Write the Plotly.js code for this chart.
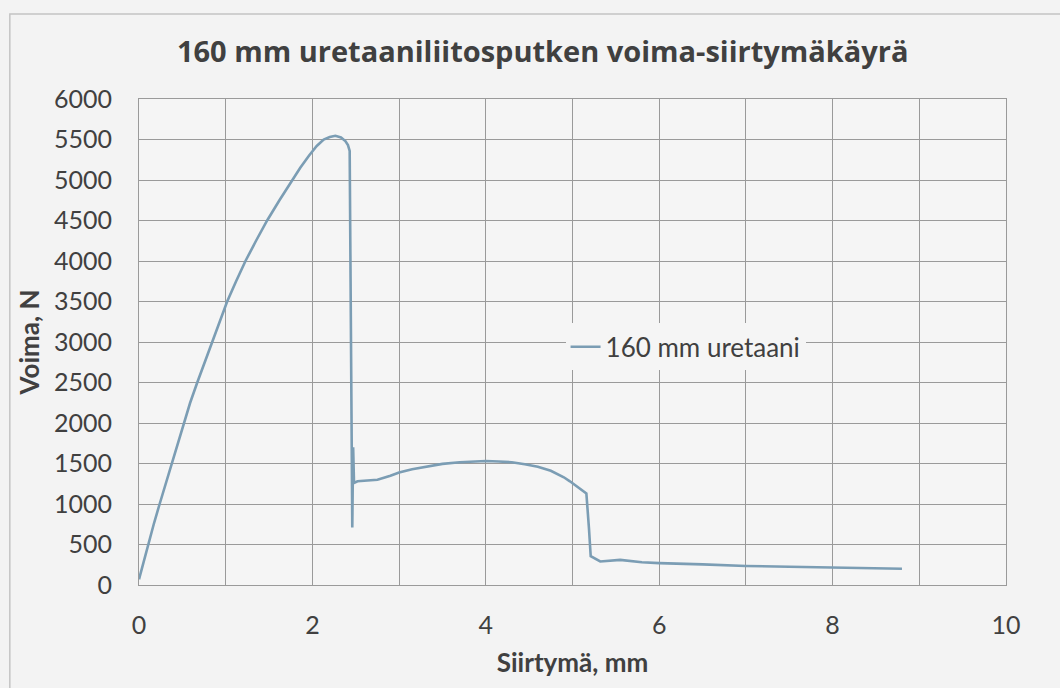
<!DOCTYPE html>
<html>
<head>
<meta charset="utf-8">
<script src="https://cdn.plot.ly/plotly-3.0.1.min.js"></script>
<style>
html,body{margin:0;padding:0;background:#f3f3f3;}
#chart{width:1060px;height:688px;}
</style>
</head>
<body>
<div id="chart"></div>
<script>
// Siirtymä (mm)
const siirtyma = [0, 0.05, 0.107, 0.17, 0.238, 0.31, 0.376, 0.45, 0.518, 0.59, 0.672, 0.76, 0.845, 0.93, 1.017,
  1.12, 1.228, 1.35, 1.478, 1.62, 1.766, 1.86, 1.96, 2.05, 2.13, 2.2, 2.265, 2.33, 2.38, 2.41, 2.43,
  2.45, 2.46, 2.47, 2.48, 2.52, 2.6, 2.75, 2.9, 3.0, 3.15, 3.3, 3.5, 3.7, 3.85, 4.0, 4.15, 4.3, 4.45, 4.6,
  4.75, 4.9, 4.97, 5.05, 5.16, 5.19, 5.21, 5.32, 5.55, 5.8, 6.0, 6.5, 7.0, 7.5, 8.0, 8.5, 8.8];
// Voima (N)
const voima = [70, 280, 500, 750, 1000, 1250, 1500, 1750, 2000, 2250, 2500, 2750, 3000, 3250, 3500,
  3750, 4000, 4250, 4500, 4750, 5000, 5150, 5300, 5420, 5500, 5530, 5545, 5525, 5480, 5430, 5360,
  2000, 710, 1700, 1260, 1280, 1290, 1300, 1350, 1390, 1430, 1460, 1495, 1515, 1525, 1530, 1525, 1515, 1490, 1460,
  1410, 1330, 1280, 1220, 1130, 700, 355, 290, 310, 280, 270, 255, 235, 225, 215, 205, 200];
const seriesName = "160 mm uretaani";
const xTickVals = [0, 2, 4, 6, 8, 10];
const yTickVals = [0, 500, 1000, 1500, 2000, 2500, 3000, 3500, 4000, 4500, 5000, 5500, 6000];

const textColor = '#404040';
const gridColor = '#9a9a9a';
const font = 'Lato, "Open Sans", sans-serif';

const trace = {
  x: siirtyma, y: voima, name: seriesName, type: 'scatter', mode: 'lines',
  line: {color: '#7b9db4', width: 2.6}
};

const layout = {
  width: 1060, height: 688,
  paper_bgcolor: '#f3f3f3', plot_bgcolor: '#f5f5f5',
  margin: {l: 139, r: 54, t: 99, b: 103},
  font: {family: font, color: textColor},
  title: {text: '<b>160 mm uretaaniliitosputken voima-siirtymäkäyrä</b>',
    font: {family: '"Open Sans", Lato, sans-serif', size: 29, color: textColor}, x: 0.512, xanchor: 'center', y: 0.925, yanchor: 'middle'},
  showlegend: true,
  legend: {x: 0.492, y: 0.49, xanchor: 'left', yanchor: 'middle', bgcolor: '#f5f5f5',
    font: {family: font, size: 26, color: textColor}},
  xaxis: {range: [0, 10], tickvals: xTickVals, showgrid: true, gridcolor: gridColor, gridwidth: 1,
    minor: {dtick: 1, showgrid: true, gridcolor: gridColor, gridwidth: 1},
    zeroline: false, showline: true, mirror: true, linecolor: gridColor, linewidth: 1,
    ticks: '', ticklabelstandoff: 18, tickfont: {family: font, size: 25, color: textColor},
    title: {text: '<b>Siirtymä, mm</b>', font: {family: font, size: 26, color: textColor}, standoff: 15}},
  yaxis: {range: [0, 6000], tickvals: yTickVals, showgrid: true, gridcolor: gridColor, gridwidth: 1,
    zeroline: false, showline: true, mirror: true, linecolor: gridColor, linewidth: 1,
    ticks: '', ticklabelstandoff: 21, tickfont: {family: font, size: 25, color: textColor},
    title: {text: '<b>Voima, N</b>', font: {family: font, size: 26, color: textColor}, standoff: 6}},
  shapes: [{type: 'rect', xref: 'paper', yref: 'paper', x0: -0.149, x1: 1.3, y0: -0.4, y1: 1.175,
    line: {color: '#c4c4c4', width: 1.5}, fillcolor: 'rgba(0,0,0,0)', layer: 'below'}]
};

Plotly.newPlot('chart', [trace], layout, {displayModeBar: false, staticPlot: true});
</script>
</body>
</html>
